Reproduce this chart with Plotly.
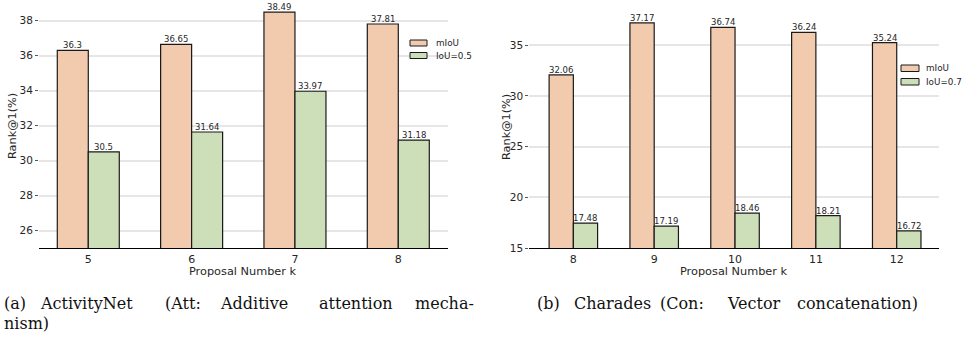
import plotly.graph_objects as go

# ---------------- data ----------------
cats_a = ["5", "6", "7", "8"]
miou_a = [36.3, 36.65, 38.49, 37.81]
iou_a = [30.5, 31.64, 33.97, 31.18]
names_a = ["mIoU", "IoU=0.5"]

cats_b = ["8", "9", "10", "11", "12"]
miou_b = [32.06, 37.17, 36.74, 36.24, 35.24]
iou_b = [17.48, 17.19, 18.46, 18.21, 16.72]
names_b = ["mIoU", "IoU=0.7"]

ytitle = "Rank@1(%)"
xtitle = "Proposal Number k"
caption_a_line1 = ["(a)", "ActivityNet", "(Att:", "Additive", "attention", "mecha-"]
caption_a_line2 = "nism)"
caption_b = ["(b)", "Charades", "(Con:", "Vector", "concatenation)"]

# ---------------- style ----------------
W, H = 962, 338
C_MIOU = "#F2CBAE"
C_IOU = "#CCDFB9"
EDGE = "#1a1a1a"
TXT = "#262626"


def px(x):
    return x / W


def py(y):
    return 1 - y / H


fig = go.Figure()
annotations = []
shapes = []


def add_bars(cats, vals, name, color, xa, ya, shift):
    fig.add_trace(go.Bar(
        x=cats, y=vals, name=name, xaxis=xa, yaxis=ya,
        marker=dict(color=color, line=dict(color=EDGE, width=1.2)),
        showlegend=False,
    ))
    # value labels: category index on the category axis, shifted onto the bar of this series
    for i, v in enumerate(vals):
        annotations.append(dict(text=f"{v:g}", x=i, y=v, xref=xa, yref=ya, xshift=shift,
                                showarrow=False, xanchor="center", yanchor="bottom",
                                borderpad=0, yshift=-1,
                                font=dict(family="DejaVu Sans", size=8.5, color=TXT)))


add_bars(cats_a, miou_a, names_a[0], C_MIOU, "x", "y", -15.5)
add_bars(cats_a, iou_a, names_a[1], C_IOU, "x", "y", 15.5)
add_bars(cats_b, miou_b, names_b[0], C_MIOU, "x2", "y2", -12.1)
add_bars(cats_b, iou_b, names_b[1], C_IOU, "x2", "y2", 12.1)

xcommon = dict(type="category", showline=True, linecolor="black", linewidth=1.2,
               ticks="", showgrid=False, zeroline=False, automargin=False,
               tickfont=dict(family="DejaVu Sans", size=11, color=TXT))
ycommon = dict(showline=False, ticks="outside", ticklen=3, tickwidth=1, tickcolor="#555",
               showgrid=True, gridcolor="#e6e6e6", gridwidth=1.5, zeroline=False,
               automargin=False,
               tickfont=dict(family="DejaVu Sans", size=10.5, color=TXT))

fig.update_layout(
    template="none",
    width=W, height=H, margin=dict(l=0, r=0, t=0, b=0, pad=0, autoexpand=False),
    paper_bgcolor="white", plot_bgcolor="white",
    barmode="group", bargap=0.4, bargroupgap=0,
    xaxis=dict(domain=[px(39), px(448)], range=[-0.477, 3.481], anchor="y", **xcommon),
    yaxis=dict(domain=[py(248.2), 1], range=[25, 25 + 248.2 / 17.5], dtick=2, tick0=0,
               anchor="x", **ycommon),
    xaxis2=dict(domain=[px(529.3), px(939)], range=[-0.545, 4.523], anchor="y2", **xcommon),
    yaxis2=dict(domain=[py(248.3), 1], range=[15, 15 + 248.3 / 10.165], dtick=5, tick0=0,
                anchor="x2", **ycommon),
    showlegend=False,
)

# axis titles
for xc, yc in [(12, 126), (506, 127)]:
    annotations.append(dict(text=ytitle, x=px(xc), y=py(yc), xref="paper", yref="paper",
                            textangle=-90, showarrow=False, xanchor="center", yanchor="middle",
                            font=dict(family="DejaVu Sans", size=11.3, color=TXT)))
for xc, yc in [(243.5, 271), (734, 271)]:
    annotations.append(dict(text=xtitle, x=px(xc), y=py(yc), xref="paper", yref="paper",
                            showarrow=False, xanchor="center", yanchor="middle",
                            font=dict(family="DejaVu Sans", size=11.3, color=TXT)))

# legends (swatch + label)
def legend(x0, x1, rows, names, colors, tx):
    for (ya, yb), nm, col in zip(rows, names, colors):
        shapes.append(dict(type="rect", xref="paper", yref="paper",
                           x0=px(x0), x1=px(x1), y0=py(yb), y1=py(ya),
                           fillcolor=col, line=dict(color=EDGE, width=1)))
        annotations.append(dict(text=nm, x=px(tx), y=py((ya + yb) / 2), xref="paper", yref="paper",
                                showarrow=False, xanchor="left", yanchor="middle",
                                font=dict(family="DejaVu Sans", size=8.8, color=TXT)))


legend(410, 427, [(40, 46), (52.5, 58.5)], names_a, [C_MIOU, C_IOU], 434)
legend(901, 919, [(65, 71.5), (78.5, 85)], names_b, [C_MIOU, C_IOU], 924)

# captions
cap_font = dict(family="DejaVu Serif", size=16, color="#111")
for word, xs in zip(caption_a_line1, [2, 38, 163, 218, 317, 413]):
    annotations.append(dict(text=word, x=px(xs), y=py(303.5), xref="paper", yref="paper",
                            showarrow=False, xanchor="left", yanchor="middle", font=cap_font))
annotations.append(dict(text=caption_a_line2, x=px(2), y=py(323.5), xref="paper", yref="paper",
                        showarrow=False, xanchor="left", yanchor="middle", font=cap_font))
for word, xs in zip(caption_b, [535, 572, 658, 725, 795]):
    annotations.append(dict(text=word, x=px(xs), y=py(303.5), xref="paper", yref="paper",
                            showarrow=False, xanchor="left", yanchor="middle", font=cap_font))

fig.update_layout(annotations=annotations, shapes=shapes)
fig.write_html("out.html", config={"displayModeBar": False},
               post_script="document.body.style.margin='0';document.body.style.padding='0';"
                           "document.documentElement.style.overflow='hidden';")
